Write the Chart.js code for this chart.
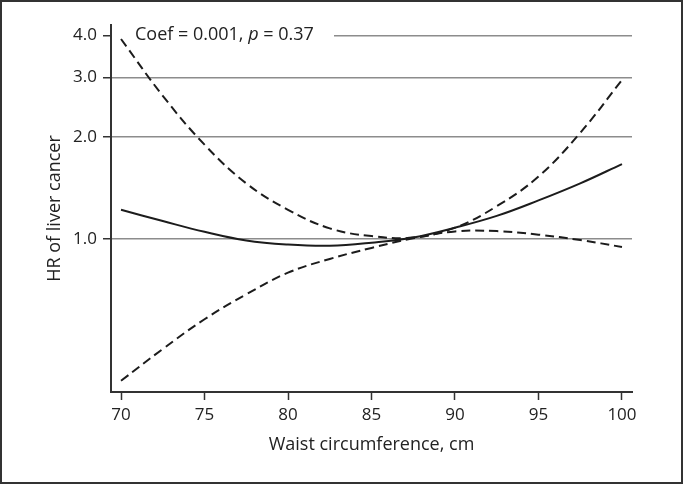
<!DOCTYPE html>
<html>
<head>
<meta charset="utf-8">
<script src="https://cdn.jsdelivr.net/npm/chart.js@4.4.1/dist/chart.umd.min.js"></script>
<style>
  html, body { margin: 0; padding: 0; background: #fff; overflow: hidden; }
  #wrap { width: 683px; height: 484px; }
</style>
</head>
<body>
<div id="wrap"><canvas id="grafica" width="683" height="484"></canvas></div>
<script>
// waist circumference (cm) and HR estimates
const waist = [70, 72.5, 75, 77.5, 80, 82.5, 85, 87.5, 90, 92.5, 95, 97.5, 100];
const hr = [1.22, 1.13, 1.05, 0.99, 0.963, 0.955, 0.975, 1.01, 1.08, 1.17, 1.3, 1.46, 1.665];
const hrUpper = [3.9, 2.65, 1.9, 1.46, 1.22, 1.075, 1.02, 1.01, 1.08, 1.25, 1.53, 2.06, 2.95];
const hrLower = [0.381, 0.473, 0.579, 0.686, 0.795, 0.873, 0.941, 1.005, 1.053, 1.055, 1.03, 0.993, 0.947];

const xTicks = [70, 75, 80, 85, 90, 95, 100];
const yTicks = [1, 2, 3, 4];

const fontFamily = "'Open Sans', 'Noto Sans', sans-serif";
const ink = "#1c1c1c";

const toPoints = (ys) => waist.map((x, i) => ({ x: x, y: ys[i] }));

// marco exterior + texto del coeficiente
const decoracion = {
    id: "decoracion",
    beforeDatasetsDraw(chart) {
        const ctx = chart.ctx;
        const area = chart.chartArea;
        const yPos = chart.scales.y.getPixelForValue(4);
        ctx.save();
        ctx.fillStyle = "#fff";
        ctx.fillRect(area.left + 1, yPos - 10, 222, 20);

        ctx.fillStyle = "#222";
        ctx.textBaseline = "middle";
        let x = area.left + 24;
        const parts = [["Coef = 0.001, ", "normal"], ["p", "italic"], [" = 0.37", "normal"]];
        parts.forEach(([txt, style]) => {
            ctx.font = `${style} 18px ${fontFamily}`;
            ctx.fillText(txt, x, yPos);
            x += ctx.measureText(txt).width;
        });
        ctx.restore();
    },
    afterDraw(chart) {
        const ctx = chart.ctx;
        ctx.save();
        ctx.strokeStyle = "#333";
        ctx.lineWidth = 2;
        ctx.strokeRect(1, 1, chart.width - 2, chart.height - 2);
        ctx.restore();
    }
};

const lineStyle = (label, data, dashed) => ({
    label: label,
    data: toPoints(data),
    borderColor: ink,
    borderWidth: 2,
    borderDash: dashed ? [9, 5] : [],
    pointRadius: 0,
    tension: 0.4,
    fill: false
});

new Chart(document.getElementById("grafica"), {
    type: "line",
    data: {
        datasets: [
            lineStyle("HR", hr, false),
            lineStyle("Upper 95% CI", hrUpper, true),
            lineStyle("Lower 95% CI", hrLower, true)
        ]
    },
    options: {
        responsive: false,
        animation: false,
        devicePixelRatio: 1,
        layout: { padding: { left: 0, right: 51, top: 25, bottom: 0 } },
        plugins: {
            legend: { display: false },
            tooltip: { enabled: false }
        },
        scales: {
            x: {
                type: "linear",
                min: 69.4,
                max: 100.6,
                afterBuildTicks: (scale) => { scale.ticks = xTicks.map(v => ({ value: v })); },
                afterFit: (scale) => { scale.height = 92; },
                grid: { drawOnChartArea: false, tickColor: "#333", tickLength: 8, tickWidth: 1.5 },
                border: { display: true, color: "#333", width: 2 },
                ticks: {
                    color: "#222",
                    padding: 5,
                    maxRotation: 0,
                    font: { family: fontFamily, size: 17 }
                },
                title: {
                    display: true,
                    text: "Waist circumference, cm",
                    color: "#222",
                    font: { family: fontFamily, size: 18 },
                    padding: { top: 0, bottom: 28 }
                }
            },
            y: {
                type: "logarithmic",
                min: 0.353,
                max: 4.29,
                afterBuildTicks: (scale) => { scale.ticks = yTicks.map(v => ({ value: v })); },
                afterFit: (scale) => { scale.width = 111; },
                grid: { color: "#8c8c8c", lineWidth: 1.5, tickColor: "#333", tickLength: 8, tickWidth: 1.5 },
                border: { display: true, color: "#333", width: 2 },
                ticks: {
                    color: "#222",
                    padding: 6,
                    font: { family: fontFamily, size: 17 },
                    callback: (v) => Number(v).toFixed(1)
                },
                title: {
                    display: true,
                    text: "HR of liver cancer",
                    color: "#222",
                    font: { family: fontFamily, size: 18 },
                    padding: { top: 44, bottom: 0 }
                }
            }
        }
    },
    plugins: [decoracion]
});
</script>
</body>
</html>
